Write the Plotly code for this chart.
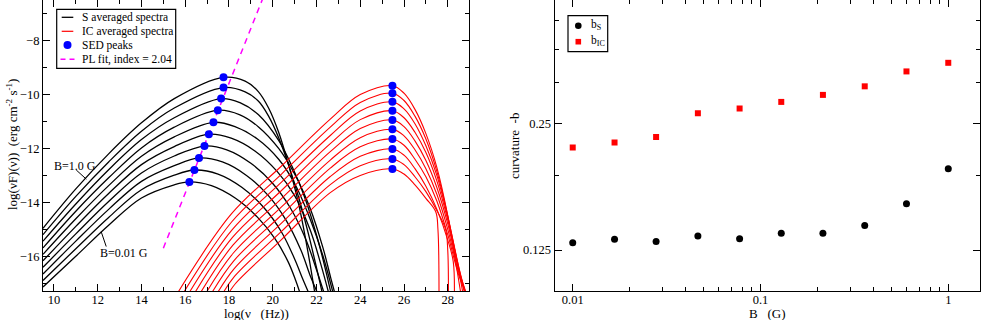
import plotly.graph_objects as go

W, H = 981, 320
SERIF = "Liberation Serif, Times New Roman, serif"

# ---------- left panel: averaged S and IC spectra (log nu, log nuFnu) ----------
S_X = [
    [9.5, 11, 12.5, 14, 15.5, 16.19, 17.2, 18.3, 19.3, 20.1, 20.7, 21.05, 21.3],
    [9.5, 11, 12.5, 14, 15.5, 16.42, 17.5, 18.6, 19.6, 20.4, 21.0, 21.4, 21.72],
    [9.5, 11, 12.5, 14, 15.5, 16.63, 17.7, 18.8, 19.8, 20.6, 21.3, 21.75, 22.12],
    [9.5, 11, 12.5, 14, 15.5, 16.88, 17.9, 19.0, 20.0, 20.8, 21.5, 22.0, 22.4],
    [9.5, 11, 12.5, 14, 15.5, 17.08, 18.1, 19.2, 20.2, 21.0, 21.7, 22.2, 22.6],
    [9.5, 11, 12.5, 14, 15.5, 17.29, 18.3, 19.3, 20.27, 21.0, 21.7, 22.3, 22.8],
    [9.5, 11, 12.5, 14, 15.5, 17.49, 18.5, 19.35, 20.27, 21.0, 21.7, 22.3, 22.65, 22.88],
    [9.5, 11, 12.5, 14, 15.5, 17.64, 18.5, 19.35, 20.27, 20.9, 21.5, 22.1, 22.5, 22.7],
    [9.5, 11, 12.5, 14, 15.5, 17.75, 18.74, 19.35, 19.81, 20.27, 20.72, 21.18, 21.64, 22.05, 22.3],
    [9.5, 11, 12.5, 14, 15.5, 17.75, 18.74, 19.35, 19.81, 20.27, 20.72, 21.18, 21.6, 21.95],
]
S_Y = [
    [-17.14, -16.00, -14.85, -13.84, -13.35, -13.24, -13.38, -13.85, -14.55, -15.35, -16.2, -16.9, -17.5],
    [-16.90, -15.72, -14.56, -13.53, -12.99, -12.80, -12.95, -13.45, -14.2, -15.1, -16.1, -16.9, -17.5],
    [-16.66, -15.44, -14.26, -13.22, -12.64, -12.35, -12.5, -13.0, -13.75, -14.65, -15.8, -16.8, -17.5],
    [-16.41, -15.17, -13.97, -12.91, -12.28, -11.91, -12.05, -12.55, -13.3, -14.2, -15.35, -16.5, -17.5],
    [-16.17, -14.89, -13.67, -12.60, -11.93, -11.47, -11.62, -12.1, -12.85, -13.75, -15.0, -16.3, -17.5],
    [-15.93, -14.61, -13.38, -12.29, -11.57, -11.03, -11.2, -11.65, -12.4, -13.3, -14.6, -16.0, -17.5],
    [-15.69, -14.33, -13.09, -11.98, -11.21, -10.58, -10.75, -11.2, -12.0, -12.95, -14.2, -15.7, -16.8, -17.5],
    [-15.44, -14.06, -12.79, -11.67, -10.86, -10.15, -10.3, -10.75, -11.7, -12.7, -13.9, -15.5, -16.8, -17.5],
    [-15.20, -13.78, -12.50, -11.36, -10.50, -9.74, -9.9, -10.25, -10.8, -11.6, -12.6, -13.8, -15.2, -16.6, -17.5],
    [-14.96, -13.50, -12.20, -11.05, -10.15, -9.36, -9.5, -9.9, -10.5, -11.4, -12.6, -14.05, -15.8, -17.5],
]

IC_X = [
    [15.55, 18.10, 20.4, 22.63, 24.0, 25.47, 26.0, 26.5, 27.0, 27.5, 28.0, 28.4, 28.62],
    [15.81, 18.12, 20.4, 22.63, 24.0, 25.47, 26.0, 26.5, 27.0, 27.5, 28.0, 28.45, 28.72],
    [16.07, 18.14, 20.4, 22.63, 24.0, 25.47, 26.0, 26.5, 27.0, 27.5, 28.0, 28.5, 28.8],
    [16.33, 18.16, 20.4, 22.63, 24.0, 25.47, 26.0, 26.5, 27.0, 27.5, 28.0, 28.5, 28.85],
    [16.59, 18.18, 20.4, 22.63, 24.0, 25.47, 26.0, 26.5, 27.0, 27.5, 28.0, 28.5, 28.9],
    [16.85, 18.20, 20.4, 22.63, 24.0, 25.47, 26.0, 26.5, 27.0, 27.5, 28.0, 28.5, 28.95],
    [17.11, 18.22, 20.4, 22.63, 24.0, 25.47, 26.0, 26.5, 27.0, 27.5, 28.0, 28.5, 29.0],
    [17.37, 18.24, 20.4, 22.63, 24.0, 25.47, 26.0, 26.5, 27.0, 27.5, 28.0, 28.25, 28.3],
    [17.63, 18.26, 20.4, 22.63, 24.0, 25.47, 26.0, 26.5, 27.0, 27.5, 27.9, 28.0, 28.03],
    [17.89, 18.28, 20.4, 22.63, 24.0, 25.47, 26.0, 26.5, 27.0, 27.45, 27.55, 27.6],
]
IC_Y = [
    [-17.5, -14.44, -12.65, -10.91, -10.00, -9.67, -9.95, -10.55, -11.45, -12.7, -14.5, -16.4, -17.5],
    [-17.5, -14.73, -12.95, -11.21, -10.29, -9.95, -10.22, -10.8, -11.65, -12.85, -14.5, -16.3, -17.5],
    [-17.5, -15.02, -13.25, -11.52, -10.61, -10.27, -10.53, -11.08, -11.9, -13.0, -14.55, -16.4, -17.5],
    [-17.5, -15.30, -13.56, -11.82, -10.93, -10.60, -10.86, -11.4, -12.15, -13.2, -14.65, -16.4, -17.5],
    [-17.5, -15.59, -13.86, -12.12, -11.26, -10.94, -11.19, -11.72, -12.45, -13.45, -14.8, -16.5, -17.5],
    [-17.5, -15.88, -14.17, -12.43, -11.60, -11.29, -11.53, -12.05, -12.75, -13.7, -15.0, -16.6, -17.6],
    [-17.5, -16.17, -14.47, -12.73, -11.94, -11.65, -11.88, -12.4, -13.05, -13.95, -15.2, -16.7, -17.7],
    [-17.5, -16.46, -14.77, -13.04, -12.29, -12.02, -12.25, -12.75, -13.4, -14.25, -15.4, -16.2, -17.6],
    [-17.5, -16.74, -15.08, -13.34, -12.64, -12.39, -12.6, -13.05, -13.6, -14.3, -15.0, -15.8, -17.6],
    [-17.5, -17.03, -15.38, -13.64, -13.00, -12.76, -12.95, -13.35, -13.85, -14.35, -15.0, -17.6],
]

S_PEAK_X = [16.19, 16.42, 16.63, 16.88, 17.08, 17.29, 17.49, 17.64, 17.75, 17.75]
S_PEAK_Y = [-13.24, -12.80, -12.35, -11.91, -11.47, -11.03, -10.58, -10.15, -9.74, -9.36]
IC_PEAK_X = [25.47] * 10
IC_PEAK_Y = [-9.67, -9.95, -10.27, -10.60, -10.94, -11.29, -11.65, -12.02, -12.39, -12.76]

PL_X = [15.0, 19.6]
PL_Y = [-15.70, -6.32]

LEFT_XTICKS = [10, 12, 14, 16, 18, 20, 22, 24, 26, 28]
LEFT_YTICKS = [-16, -14, -12, -10, -8]

# ---------- right panel: curvature vs B ----------
B_FIELD = [0.01, 0.0167, 0.0278, 0.0464, 0.0774, 0.129, 0.215, 0.359, 0.599, 1.0]
B_S = [0.130, 0.1325, 0.131, 0.135, 0.133, 0.137, 0.137, 0.143, 0.161, 0.195]
B_IC = [0.219, 0.225, 0.232, 0.264, 0.271, 0.281, 0.292, 0.306, 0.332, 0.348]

RIGHT_XTICKS = [0.01, 0.1, 1]
RIGHT_XTEXT = ["0.01", "0.1", "1"]
RIGHT_XMINOR = [0.02, 0.03, 0.04, 0.05, 0.06, 0.07, 0.08, 0.09,
                0.2, 0.3, 0.4, 0.5, 0.6, 0.7, 0.8, 0.9]
RIGHT_YTICKS = [0.125, 0.25]
RIGHT_YTEXT = ["0.125", "0.25"]
RIGHT_YMINOR = [0.1875, 0.3125, 0.375, 0.4375]


def pxx(x):
    return x / W


def pxy(y):
    return 1 - y / H


fig = go.Figure()

for xs, ys in zip(S_X, S_Y):
    fig.add_trace(go.Scatter(x=xs, y=ys, mode="lines", line=dict(color="black", width=1.3, shape="spline"),
                             xaxis="x", yaxis="y", showlegend=False))
for xs, ys in zip(IC_X, IC_Y):
    fig.add_trace(go.Scatter(x=xs, y=ys, mode="lines", line=dict(color="red", width=1.1, shape="spline"),
                             xaxis="x", yaxis="y", showlegend=False))

fig.add_trace(go.Scatter(x=PL_X, y=PL_Y, mode="lines", line=dict(color="#ff00ff", width=1.5, dash="6px,5px"),
                         xaxis="x", yaxis="y", showlegend=False))
fig.add_trace(go.Scatter(x=S_PEAK_X + IC_PEAK_X, y=S_PEAK_Y + IC_PEAK_Y, mode="markers",
                         marker=dict(color="#0000ff", size=8), xaxis="x", yaxis="y", showlegend=False))

fig.add_trace(go.Scatter(x=B_FIELD, y=B_S, mode="markers", marker=dict(color="black", size=7, symbol="circle"),
                         xaxis="x2", yaxis="y2", showlegend=False))
fig.add_trace(go.Scatter(x=B_FIELD, y=B_IC, mode="markers", marker=dict(color="red", size=6, symbol="square"),
                         xaxis="x2", yaxis="y2", showlegend=False))

axis_common = dict(showline=True, linecolor="black", linewidth=1.2, mirror="allticks", ticks="inside",
                   ticklen=7, tickwidth=1.1, tickcolor="black", showgrid=False, zeroline=False,
                   automargin=False, tickfont=dict(family=SERIF, size=12.5, color="black"))

fig.update_layout(
    width=W, height=H,
    margin=dict(l=0, r=0, t=0, b=0),
    paper_bgcolor="white", plot_bgcolor="white",
    xaxis=dict(domain=[pxx(43), pxx(469)], range=[9.5, 28.97], tickmode="array", tickvals=LEFT_XTICKS,
               minor=dict(ticks="inside", ticklen=4, dtick=1, tickcolor="black", showgrid=False),
               ticklabelstandoff=-3, anchor="y", **axis_common),
    yaxis=dict(domain=[1 - 291 / H, 1.0], range=[-17.29, -6.49], tickmode="array", tickvals=LEFT_YTICKS,
               minor=dict(ticks="inside", ticklen=4, dtick=1, tickcolor="black", showgrid=False),
               anchor="x", **axis_common),
    xaxis2=dict(domain=[pxx(554.7), pxx(980)], type="log", range=[-2.096, 0.169], tickmode="array",
                tickvals=RIGHT_XTICKS, ticktext=RIGHT_XTEXT,
                minor=dict(ticks="inside", ticklen=4, tickmode="array", tickvals=RIGHT_XMINOR,
                           tickcolor="black", showgrid=False),
                ticklabelstandoff=-3, anchor="y2", **axis_common),
    yaxis2=dict(domain=[1 - 291 / H, 1.0], type="log", range=[-1.0005, -0.3092], tickmode="array",
                tickvals=RIGHT_YTICKS, ticktext=RIGHT_YTEXT,
                minor=dict(ticks="inside", ticklen=4, tickmode="array", tickvals=RIGHT_YMINOR,
                           tickcolor="black", showgrid=False),
                anchor="x2", **axis_common),
)

font_title = dict(family=SERIF, size=13, color="black")
font_small = dict(family=SERIF, size=11.5, color="black")
ann = []
# axis titles
ann.append(dict(text="log(\u03bdF)(\u03bd))\u00a0\u00a0(erg cm<sup>-2</sup> s<sup>-1</sup>)", x=pxx(12), y=pxy(145),
                textangle=-90, font=font_title, xanchor="center", yanchor="middle"))
ann.append(dict(text="log(\u03bd\u00a0\u00a0\u00a0(Hz))", x=pxx(256), y=pxy(313.5), font=font_title,
                xanchor="center", yanchor="middle"))
ann.append(dict(text="curvature\u00a0\u00a0-b", x=pxx(514), y=pxy(146), textangle=-90, font=font_title,
                xanchor="center", yanchor="middle"))
ann.append(dict(text="B\u00a0\u00a0\u00a0(G)", x=pxx(767), y=pxy(313.5), font=font_title,
                xanchor="center", yanchor="middle"))
# curve labels
ann.append(dict(text="B=1.0 G", x=pxx(75), y=pxy(166), font=dict(family=SERIF, size=12, color="black"),
                xanchor="center", yanchor="middle"))
ann.append(dict(text="B=0.01 G", x=pxx(124), y=pxy(253), font=dict(family=SERIF, size=12, color="black"),
                xanchor="center", yanchor="middle"))
# left legend texts
for label, yy in [("S averaged spectra", 17.3), ("IC averaged spectra", 31.3),
                  ("SED peaks", 45), ("PL fit, index = 2.04", 59.3)]:
    ann.append(dict(text=label, x=pxx(80), y=pxy(yy), xanchor="left", yanchor="middle", font=font_small))
# right legend texts
ann.append(dict(text="b<sub>S</sub>", x=pxx(589), y=pxy(25), xanchor="left", yanchor="middle", font=font_small))
ann.append(dict(text="b<sub>IC</sub>", x=pxx(589), y=pxy(41), xanchor="left", yanchor="middle", font=font_small))
for a in ann:
    a.update(xref="paper", yref="paper", showarrow=False)
fig.update_layout(annotations=ann)

shapes = [
    # leader lines for B labels
    dict(type="line", xref="x", yref="y", x0=11.02, y0=-12.80, x1=11.48, y1=-13.14, line=dict(color="black", width=1)),
    dict(type="line", xref="x", yref="y", x0=12.39, y0=-15.64, x1=12.16, y1=-15.09, line=dict(color="black", width=1)),
    # left legend box and samples
    dict(type="rect", xref="paper", yref="paper", x0=pxx(56.7), x1=pxx(175.7), y0=pxy(68.3), y1=pxy(9.3),
         line=dict(color="black", width=1.2), fillcolor="white", layer="above"),
    dict(type="line", xref="paper", yref="paper", x0=pxx(61.7), x1=pxx(73.3), y0=pxy(17.3), y1=pxy(17.3),
         line=dict(color="black", width=1.3)),
    dict(type="line", xref="paper", yref="paper", x0=pxx(61.7), x1=pxx(73.3), y0=pxy(31.3), y1=pxy(31.3),
         line=dict(color="red", width=1.2)),
    dict(type="circle", xref="paper", yref="paper", x0=pxx(63.5), x1=pxx(71.5), y0=pxy(49), y1=pxy(41),
         line=dict(color="#0000ff", width=0), fillcolor="#0000ff"),
    dict(type="line", xref="paper", yref="paper", x0=pxx(60.5), x1=pxx(74.5), y0=pxy(59.3), y1=pxy(59.3),
         line=dict(color="#ff00ff", width=1.5, dash="5px,4px")),
    # right legend box and samples
    dict(type="rect", xref="paper", yref="paper", x0=pxx(568), x1=pxx(607.7), y0=pxy(51.7), y1=pxy(15.7),
         line=dict(color="black", width=1.2), fillcolor="white", layer="above"),
    dict(type="circle", xref="paper", yref="paper", x0=pxx(575), x1=pxx(581.6), y0=pxy(29), y1=pxy(22.4),
         line=dict(color="black", width=0), fillcolor="black"),
    dict(type="rect", xref="paper", yref="paper", x0=pxx(575.5), x1=pxx(581.1), y0=pxy(44.5), y1=pxy(38.9),
         line=dict(color="red", width=0), fillcolor="red"),
]
fig.update_layout(shapes=shapes)

# the page body has a default 8px margin; remove it so the figure sits at the top-left corner
fig.write_html("out.html", config={"displayModeBar": False},
               post_script="document.body.style.margin='0px';")
